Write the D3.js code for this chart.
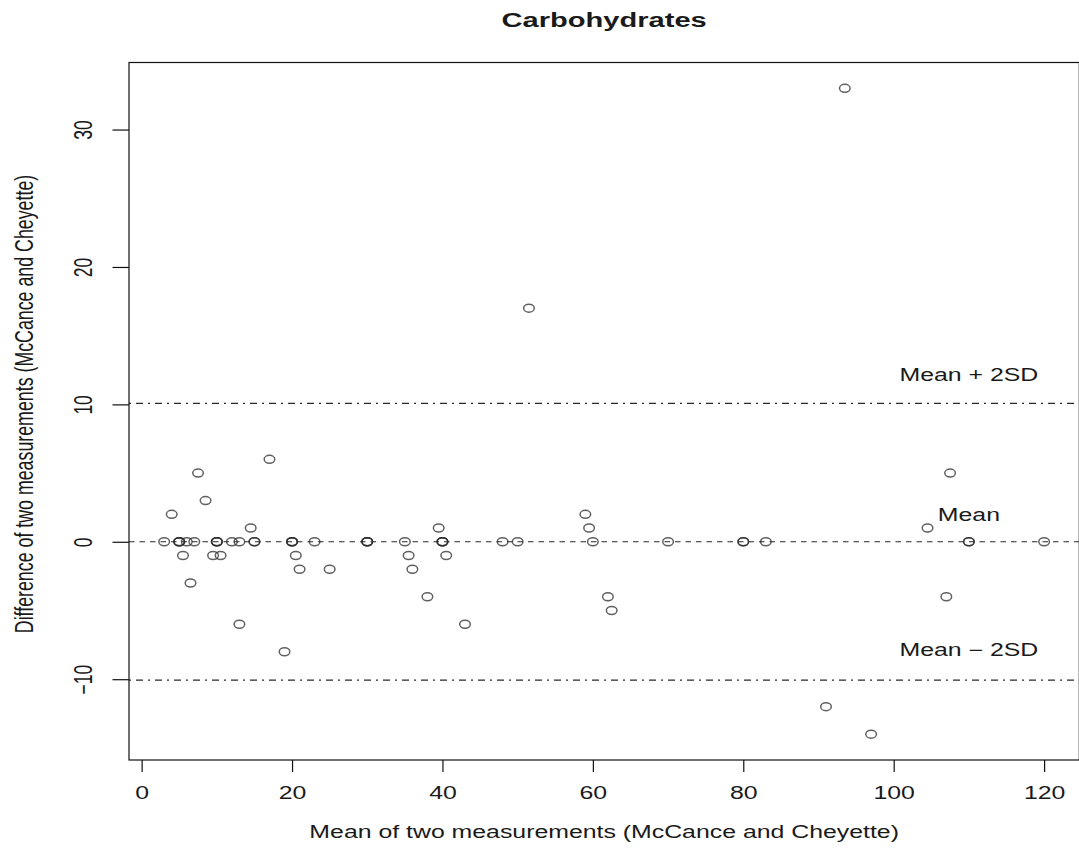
<!DOCTYPE html>
<html>
<head>
<meta charset="utf-8">
<script src="https://cdn.jsdelivr.net/npm/d3@7"></script>
<style>
  html, body { margin: 0; padding: 0; background: #fff; }
  svg { display: block; }
  text { font-family: "Liberation Sans", Arial, sans-serif; fill: #1a1a1a; }
</style>
</head>
<body>
<svg id="chart" width="1079" height="848"></svg>
<script>
// ---- Data ----
const meanValues = [
  3, 4, 5, 5, 5, 5.5, 6, 6.5, 7, 7.5, 8.5, 9.5, 10, 10, 10, 10.5, 12, 13, 13, 14.5,
  15, 15, 17, 19, 20, 20, 20, 20.5, 21, 23, 25, 30, 30, 30, 35, 35.5, 36, 38, 39.5,
  40, 40, 40, 40.5, 43, 48, 50, 51.5, 59, 59.5, 60, 62, 62.5, 70, 80, 80, 83,
  91, 93.5, 97, 104.5, 107, 107.5, 110, 110, 120
];
const diffValues = [
  0, 2, 0, 0, 0, -1, 0, -3, 0, 5, 3, -1, 0, 0, 0, -1, 0, 0, -6, 1,
  0, 0, 6, -8, 0, 0, 0, -1, -2, 0, -2, 0, 0, 0, 0, -1, -2, -4, 1,
  0, 0, 0, -1, -6, 0, 0, 17, 2, 1, 0, -4, -5, 0, 0, 0, 0,
  -12, 33, -14, 1, -4, 5, 0, 0, 0
];
const xTickValues = [0, 20, 40, 60, 80, 100, 120];
const yTickValues = [-10, 0, 10, 20, 30];
const limitValues = [0, 10.07, -10.07];
const limitLabels = ["Mean", "Mean + 2SD", "Mean \u2212 2SD"];
const limitLabelY = [1.5, 11.7, -8.3];
const limitLabelX = 110;

const titleText = "Carbohydrates";
const xLabelText = "Mean of two measurements (McCance and Cheyette)";
const yLabelText = "Difference of two measurements (McCance and Cheyette)";

// ---- Layout ----
const box = { left: 129, right: 1079.3, top: 62.5, bottom: 760 };
const SX = 1.42;           // horizontal stretch of the reference image
const FS = 17.5;

const svg = d3.select("#chart");

const xExt = d3.extent(meanValues), yExt = d3.extent(diffValues);
const xPad = (xExt[1] - xExt[0]) * 0.04, yPad = (yExt[1] - yExt[0]) * 0.04;
const x = d3.scaleLinear().domain([xExt[0] - xPad, xExt[1] + xPad]).range([box.left, box.right]);
const y = d3.scaleLinear().domain([yExt[0] - yPad, yExt[1] + yPad]).range([box.bottom, box.top]);

svg.append("defs").append("clipPath").attr("id", "clip")
  .append("rect").attr("x", box.left).attr("y", box.top)
  .attr("width", box.right - box.left).attr("height", box.bottom - box.top);

// Reference lines
const lineStyles = ["5.5,5", "2,5,7,5", "2,5,7,5"];
svg.append("g").attr("clip-path", "url(#clip)")
  .selectAll("line").data(limitValues).join("line")
  .attr("x1", box.left).attr("x2", box.right)
  .attr("y1", d => y(d)).attr("y2", d => y(d))
  .attr("stroke", "#2a2a2a").attr("stroke-width", 1.1)
  .attr("stroke-dasharray", (d, i) => lineStyles[i]);

// Points
const pts = meanValues.map((m, i) => ({ m, d: diffValues[i] }));
svg.append("g").attr("clip-path", "url(#clip)")
  .selectAll("ellipse").data(pts).join("ellipse")
  .attr("cx", p => x(p.m)).attr("cy", p => y(p.d))
  .attr("rx", 5.3).attr("ry", 4)
  .attr("fill", "none").attr("stroke", "#2b2b2b").attr("stroke-opacity", 0.75)
  .attr("stroke-width", 1.5);

// Limit labels
svg.append("g").selectAll("text").data(limitLabels).join("text")
  .attr("transform", (d, i) => `translate(${x(limitLabelX)},${y(limitLabelY[i])}) scale(${SX},1)`)
  .attr("text-anchor", "middle").attr("font-size", FS)
  .text(d => d);

// Box
svg.append("rect")
  .attr("x", box.left).attr("y", box.top)
  .attr("width", box.right - box.left).attr("height", box.bottom - box.top)
  .attr("fill", "none").attr("stroke", "#111").attr("stroke-width", 1.2);

// X axis
const xAxis = d3.axisBottom(x).tickValues(xTickValues).tickSize(12).tickPadding(0).tickFormat(d3.format("d"));
const gx = svg.append("g").attr("transform", `translate(0,${box.bottom})`).call(xAxis);
gx.select(".domain").remove();
gx.selectAll(".tick line").attr("stroke", "#111").attr("stroke-width", 1.2);
gx.selectAll(".tick text")
  .attr("y", null).attr("dy", null)
  .attr("transform", `translate(0,39) scale(${SX},1)`)
  .attr("font-size", FS).attr("font-family", "Liberation Sans, Arial, sans-serif")
  .attr("fill", "#1a1a1a");

// Y axis
const yAxis = d3.axisLeft(y).tickValues(yTickValues).tickSize(16.5).tickPadding(0)
  .tickFormat(d => d < 0 ? "\u2212" + Math.abs(d) : String(d));
const gy = svg.append("g").attr("transform", `translate(${box.left},0)`).call(yAxis);
gy.select(".domain").remove();
gy.selectAll(".tick line").attr("stroke", "#111").attr("stroke-width", 1.2);
gy.selectAll(".tick text")
  .attr("x", null).attr("dy", null)
  .attr("text-anchor", "middle")
  .attr("transform", `translate(${92 - box.left},0) scale(${SX},1) rotate(-90)`)
  .attr("font-size", FS).attr("font-family", "Liberation Sans, Arial, sans-serif")
  .attr("fill", "#1a1a1a");

// Title
svg.append("text")
  .attr("transform", `translate(${(box.left + box.right) / 2},27) scale(${SX},1)`)
  .attr("text-anchor", "middle").attr("font-size", 20.5).attr("font-weight", "bold")
  .text(titleText);

// Axis labels
svg.append("text")
  .attr("transform", `translate(${(box.left + box.right) / 2},838) scale(${SX},1)`)
  .attr("text-anchor", "middle").attr("font-size", FS)
  .text(xLabelText);

svg.append("text")
  .attr("transform", `translate(33,404) scale(${SX},1) rotate(-90)`)
  .attr("text-anchor", "middle").attr("font-size", 17.8)
  .text(yLabelText);
</script>
</body>
</html>
